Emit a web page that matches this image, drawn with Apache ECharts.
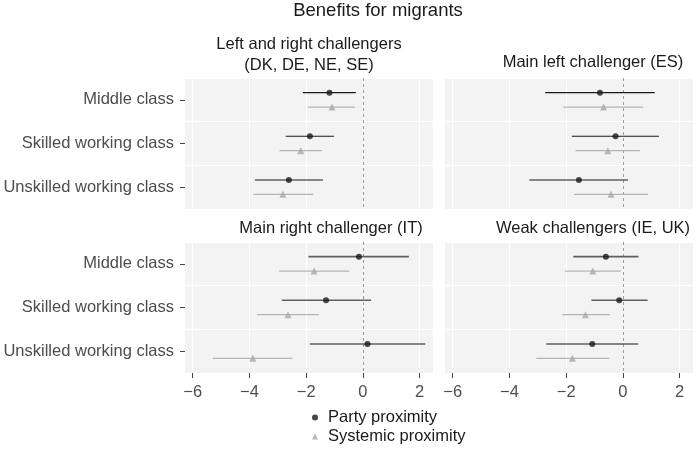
<!DOCTYPE html>
<html><head><meta charset="utf-8">
<script src="https://cdn.jsdelivr.net/npm/echarts@6/dist/echarts.min.js"></script>
<style>html,body{margin:0;padding:0;background:#fff}#c{width:695px;height:454px}</style>
</head><body><div id="c"></div><script>
// ---- data ----
const categories = ['Middle class', 'Skilled working class', 'Unskilled working class'];
const panelTitles = ['Left and right challengers\n(DK, DE, NE, SE)', 'Main left challenger (ES)', 'Main right challenger (IT)', 'Weak challengers (IE, UK)'];
const chartTitle = 'Benefits for migrants';
const seriesNames = ['Party proximity', 'Systemic proximity'];
const xTicks = [-6, -4, -2, 0, 2];
// panels: 0 = Left and right, 1 = Main left (ES), 2 = Main right (IT), 3 = Weak (IE, UK)
const partyEst = [[-1.18, -1.87, -2.61], [-0.81, -0.26, -1.55], [-0.14, -1.30, 0.16], [-0.60, -0.13, -1.08]];
const partyLo  = [[-2.12, -2.72, -3.81], [-2.74, -1.80, -3.30], [-1.92, -2.86, -1.87], [-1.75, -1.11, -2.70]];
const partyHi  = [[-0.25, -1.02, -1.41], [1.12, 1.27, 0.18], [1.62, 0.29, 2.20], [0.55, 0.87, 0.54]];
const sysEst   = [[-1.09, -2.19, -2.82], [-0.68, -0.53, -0.42], [-1.72, -2.64, -3.88], [-1.06, -1.32, -1.78]];
const sysLo    = [[-1.94, -2.94, -3.86], [-2.10, -1.67, -1.72], [-2.95, -3.73, -5.29], [-2.04, -2.13, -3.05]];
const sysHi    = [[-0.28, -1.44, -1.75], [0.71, 0.60, 0.88], [-0.48, -1.55, -2.48], [-0.08, -0.46, -0.48]];

// ---- layout / style ----
const FONT = "'Liberation Sans', Arial, Helvetica, sans-serif";
const DODGE = 0.165;
const gridPos = [
  {left: 185, top: 78, width: 248, height: 131},
  {left: 445, top: 78, width: 248, height: 131},
  {left: 185, top: 242, width: 248, height: 131},
  {left: 445, top: 242, width: 248, height: 131}
];
const titlePos = [[309, 55], [593, 62.5], [331, 228], [593, 228]];
const fmt = v => v < 0 ? '\u2212' + Math.abs(v) : String(v);

const chart = echarts.init(document.getElementById('c'), null, {renderer: 'canvas'});
const grid = [], xAxis = [], yAxis = [], series = [];
const rows = categories.map((_, i) => i);

function barRender(color, width) {
  return function (params, api) {
    const a = api.coord([api.value(0), api.value(2)]);
    const b = api.coord([api.value(1), api.value(2)]);
    return {type: 'line', shape: {x1: a[0], y1: a[1], x2: b[0], y2: b[1]},
            style: {stroke: color, lineWidth: width}};
  };
}

for (let p = 0; p < 4; p++) {
  const bottom = p >= 2, left = p % 2 === 0;
  grid.push(Object.assign({show: true, backgroundColor: '#F3F3F3', borderWidth: 0, containLabel: false}, gridPos[p]));
  xAxis.push({
    type: 'value', gridIndex: p, min: -6.27, max: 2.47, position: 'bottom',
    axisLine: {show: false, onZero: false},
    axisTick: {show: bottom, customValues: xTicks, length: 5, lineStyle: {color: '#444', width: 1}},
    axisLabel: {show: bottom, customValues: xTicks, formatter: fmt, fontSize: 16.5, color: '#4d4d4d', margin: 11, fontFamily: FONT},
    splitLine: {show: true, lineStyle: {color: '#ffffff', width: 1}}
  });
  yAxis.push({
    type: 'category', gridIndex: p, data: categories, inverse: true, boundaryGap: true, position: 'left',
    axisLine: {show: false, onZero: false},
    axisTick: {show: left, alignWithLabel: true, length: 5, lineStyle: {color: '#444', width: 1}},
    axisLabel: {show: left, fontSize: 16.5, color: '#4d4d4d', margin: 11, fontFamily: FONT},
    splitLine: {show: true, lineStyle: {color: '#ffffff', width: 1}}
  });
  yAxis.push({type: 'value', gridIndex: p, min: -0.5, max: 2.5, inverse: true, show: false,
    axisLine: {onZero: false}});
  const yi = 2 * p + 1;
  series.push({
    type: 'custom', name: 'sysCI' + p, xAxisIndex: p, yAxisIndex: yi, z: 3,
    data: rows.map(i => [sysLo[p][i], sysHi[p][i], i + DODGE]),
    encode: {x: [0, 1], y: 2},
    renderItem: barRender('#b5b5b5', 1.3),
    markLine: {silent: true, symbol: 'none', label: {show: false}, z: 2,
      lineStyle: {type: [3, 3], color: '#9a9a9a', width: 1}, data: [{xAxis: 0}]}
  });
  series.push({
    type: 'custom', name: 'partyCI' + p, xAxisIndex: p, yAxisIndex: yi, z: 3,
    data: rows.map(i => [partyLo[p][i], partyHi[p][i], i - DODGE]),
    encode: {x: [0, 1], y: 2},
    renderItem: barRender(bottom ? '#5f5f5f' : '#1a1a1a', bottom ? 1.6 : 1.1)
  });
  series.push({
    type: 'scatter', name: seriesNames[0], xAxisIndex: p, yAxisIndex: yi, z: 5,
    data: rows.map(i => [partyEst[p][i], i - DODGE]),
    symbol: 'circle', symbolSize: 6, itemStyle: {color: '#1a1a1a'}
  });
  series.push({
    type: 'scatter', name: seriesNames[1], xAxisIndex: p, yAxisIndex: yi, z: 5,
    data: rows.map(i => [sysEst[p][i], i + DODGE]),
    symbol: 'triangle', symbolSize: 7, itemStyle: {color: '#a8a8a8'}
  });
}

const graphic = [{type: 'text', x: 378, y: 11, style: {text: chartTitle, font: '18.5px ' + FONT, fill: '#1a1a1a', align: 'center', verticalAlign: 'middle'}}];
panelTitles.forEach((t, p) => {
  graphic.push({type: 'text', x: titlePos[p][0], y: titlePos[p][1],
    style: {text: t, font: '16.5px ' + FONT, fill: '#1a1a1a', align: 'center', verticalAlign: 'middle', lineHeight: 20.5}});
});

chart.setOption({
  animation: false,
  backgroundColor: '#ffffff',
  grid, xAxis, yAxis, series, graphic,
  legend: {
    orient: 'vertical', left: 312, top: 409, padding: 0, itemWidth: 6, itemHeight: 6, itemGap: 2,
    selectedMode: false,
    textStyle: {fontSize: 16.5, lineHeight: 16, color: '#1a1a1a', fontFamily: FONT, padding: [0, 0, 0, 5]},
    data: [
      {name: seriesNames[0], icon: 'circle', itemStyle: {color: '#1a1a1a'}},
      {name: seriesNames[1], icon: 'triangle', itemStyle: {color: '#a8a8a8'}}
    ]
  }
});
</script></body></html>
